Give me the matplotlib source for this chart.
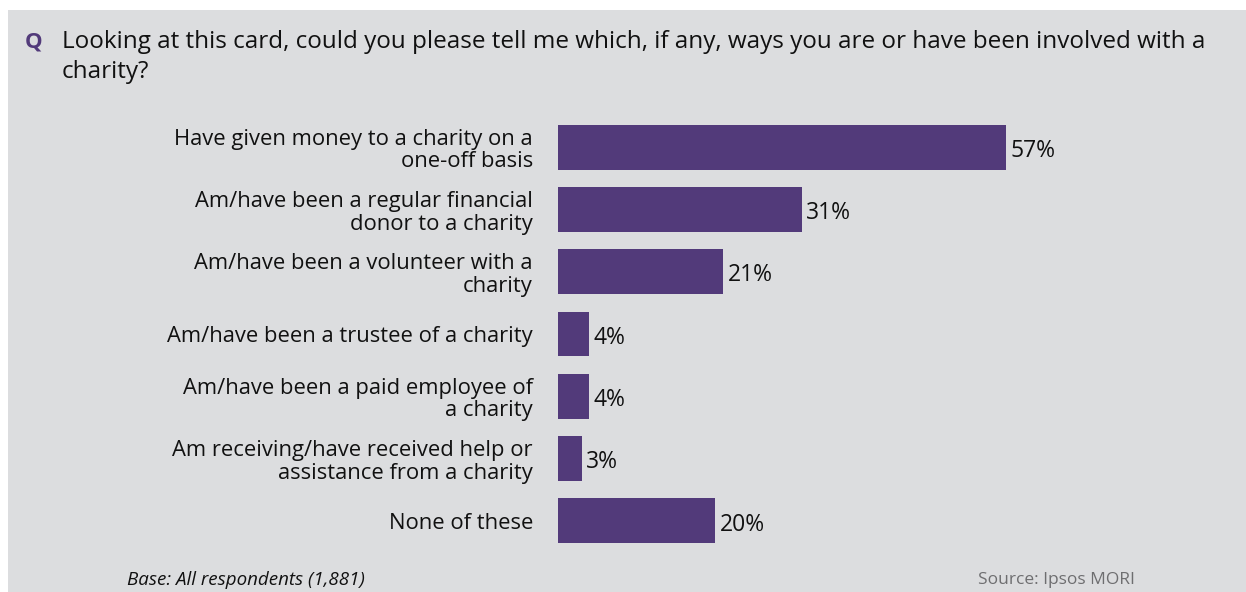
import matplotlib
matplotlib.use("Agg")
import matplotlib.pyplot as plt
from matplotlib.patches import Rectangle

# data
categories = [
    "Have given money to a charity on a\none-off basis",
    "Am/have been a regular financial\ndonor to a charity",
    "Am/have been a volunteer with a\ncharity",
    "Am/have been a trustee of a charity",
    "Am/have been a paid employee of\na charity",
    "Am receiving/have received help or\nassistance from a charity",
    "None of these",
]
values = [57, 31, 21, 4, 4, 3, 20]

question = ("Looking at this card, could you please tell me which, if any, ways you are or have been involved with a\n"
            "charity?")
base_note = "Base: All respondents (1,881)"
source_note = "Source: Ipsos MORI"

W, H = 1246, 592
bg = "#DCDDDF"
purple = "#523A7A"
font = "Open Sans"

fig = plt.figure(figsize=(W / 100, H / 100), dpi=100)
fig.patch.set_facecolor("white")
# grey card with a thin white margin at top/left
fig.patches.append(Rectangle((8 / W, 0), 1, 1 - 10 / H, transform=fig.transFigure,
                             facecolor=bg, edgecolor="none", zorder=-5))

# axes: bar origin at x=558px, 7.86 px per percent
left, right = 558, 1246
top, bottom = 116, 552
ax = fig.add_axes([left / W, 1 - bottom / H, (right - left) / W, (bottom - top) / H])
ax.set_zorder(2)
ax.set_facecolor("none")
ax.set_xlim(0, (right - left) / 7.86)
ax.set_ylim(len(values) - 0.5, -0.5)

ypos = list(range(len(values)))
ax.barh(ypos, values, height=0.72, color=purple)
for y, v in zip(ypos, values):
    ax.text(v + 0.55, y + 0.06, f"{v}%", va="center", ha="left",
            fontsize=16.5, family=font, color="#111111")

ax.set_yticks(ypos)
ax.set_yticklabels(categories, fontsize=15.8, family=font, color="#111111",
                   linespacing=1.1)
ax.tick_params(axis="y", length=0, pad=18)
ax.set_xticks([])
for s in ax.spines.values():
    s.set_visible(False)

# question header
fig.text(25 / W, 1 - 42 / H, "Q", fontsize=16, fontweight="bold", color=purple,
         family=font, va="center", ha="left")
fig.text(62 / W, 1 - 30 / H, question, fontsize=17.5, family=font, color="#111111",
         va="top", ha="left", linespacing=1.35)

# footer
fig.text(127 / W, 1 - 580 / H, base_note, fontsize=13.5, style="italic", family=font,
         color="#111111", va="center", ha="left")
fig.text(1135 / W, 1 - 580 / H, source_note, fontsize=12.5, family=font,
         color="#6E6E70", va="center", ha="right")

fig.savefig("out.png", dpi=100, facecolor=fig.get_facecolor())
